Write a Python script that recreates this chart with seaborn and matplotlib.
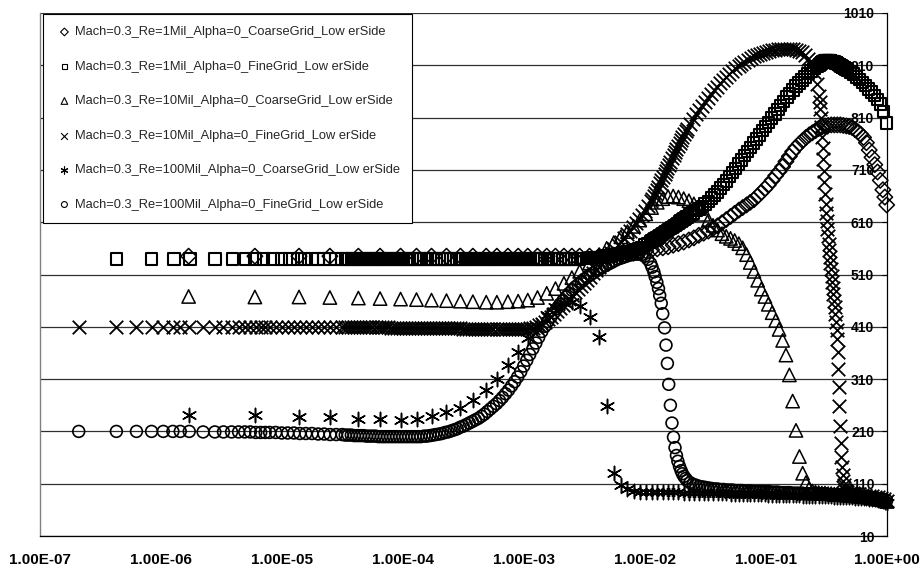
import matplotlib
matplotlib.use("Agg")
import matplotlib.pyplot as plt
from matplotlib.ticker import NullLocator
import seaborn as sns

sns.set_style("white")
plt.rcParams["font.family"] = ["Liberation Sans", "DejaVu Sans"]

labels = [
    "Mach=0.3_Re=1Mil_Alpha=0_CoarseGrid_Low erSide",
    "Mach=0.3_Re=1Mil_Alpha=0_FineGrid_Low erSide",
    "Mach=0.3_Re=10Mil_Alpha=0_CoarseGrid_Low erSide",
    "Mach=0.3_Re=10Mil_Alpha=0_FineGrid_Low erSide",
    "Mach=0.3_Re=100Mil_Alpha=0_CoarseGrid_Low erSide",
    "Mach=0.3_Re=100Mil_Alpha=0_FineGrid_Low erSide",
]

xtick_vals = [1e-7, 1e-6, 1e-5, 1e-4, 1e-3, 1e-2, 1e-1, 1e0]
xtick_labels = ["1.00E-07", "1.00E-06", "1.00E-05", "1.00E-04",
                "1.00E-03", "1.00E-02", "1.00E-01", "1.00E+00"]
ytick_vals = [10, 110, 210, 310, 410, 510, 610, 710, 810, 910, 1010]

# ---------------- coarse grid (diamond, triangle, asterisk) ----------------
x_coarse = [1.7e-6, 6.0e-6, 1.39e-5, 2.5e-5, 4.3e-5, 6.5e-5, 9.6e-5, 1.3e-4,
            1.73e-4, 2.3e-4, 3.0e-4, 3.8e-4, 4.9e-4, 6.0e-4, 7.4e-4, 9.0e-4,
            1.08e-3, 1.3e-3, 1.55e-3, 1.83e-3, 2.15e-3, 2.5e-3, 2.9e-3, 3.5e-3,
            4.2e-3, 4.85e-3, 5.55e-3, 6.35e-3, 7.2e-3, 8.1e-3, 9.1e-3,
            0.0102, 0.0114, 0.0127, 0.0141, 0.0156, 0.0172, 0.019, 0.021,
            0.0232, 0.0255, 0.028, 0.0307, 0.0336, 0.0367, 0.04, 0.0435,
            0.0472, 0.0512, 0.0554, 0.06, 0.0645, 0.0695, 0.0745, 0.08,
            0.0858, 0.092, 0.0985, 0.105, 0.113, 0.121, 0.129, 0.138, 0.147,
            0.157, 0.167, 0.178, 0.19, 0.202, 0.215, 0.229, 0.243, 0.258,
            0.274, 0.291, 0.309, 0.328, 0.348, 0.369, 0.391, 0.414, 0.438,
            0.464, 0.49, 0.518, 0.547, 0.578, 0.61, 0.644, 0.68, 0.717, 0.756,
            0.797, 0.84, 0.885, 0.93, 0.965, 1.0]

y_diamond = [545, 545, 545, 545, 545, 545, 545, 545, 545, 545, 545, 545, 545,
             545, 545, 545, 545, 545, 545, 545, 545, 545, 545, 545, 545,
             546, 547, 548, 550, 551, 553, 555, 557, 559, 561, 563, 566, 569,
             572, 576, 580, 585, 589, 593, 598, 603, 609, 615, 621, 627, 633,
             638, 643, 648, 653, 660, 667, 674, 681, 690, 699, 707, 716, 726,
             736, 745, 753, 760, 766, 772, 777, 781, 785, 789, 792, 794, 795,
             796, 796, 796, 796, 795, 794, 793, 791, 787, 783, 778, 772, 762,
             748, 734, 720, 706, 690, 672, 658, 643]

y_triangle = [468, 467, 467, 466, 465, 464, 463, 462, 461, 460, 459, 458, 457,
              457, 458, 459, 461, 466, 474, 483, 493, 504, 516, 532, 548, 560,
              571, 582, 592, 602, 614, 626, 638, 648, 655, 659, 660, 658, 655,
              651, 645, 636, 625, 614, 604, 595, 588, 583, 579, 575, 569, 561,
              548, 533, 516, 499, 482, 468, 453, 437, 422, 405, 384, 356, 318,
              268, 212, 162, 130, 112, 101, 96, 94, 93, 92, 92, 91, 91, 90, 90,
              89, 89, 88, 88, 87, 87, 86, 86, 85, 85, 84, 83, 82, 81, 80, 79,
              78, 76]

y_asterisk = [241, 241, 238, 237, 234, 233, 231, 234, 239, 247, 255, 270, 290,
              311, 337, 362, 388, 412, 432, 447, 456, 458, 450, 429, 391, 259,
              131, 107, 99, 96, 95, 95, 95, 94, 94, 94, 94, 94, 93, 93, 93, 93,
              93, 92, 92, 92, 92, 92, 91, 91, 91, 91, 91, 90, 90, 90, 90, 90,
              89, 89, 89, 89, 89, 88, 88, 88, 88, 88, 87, 87, 87, 87, 87, 86,
              86, 86, 86, 86, 85, 85, 85, 85, 84, 84, 84, 83, 83, 83, 82, 82,
              81, 81, 80, 79, 78, 77, 76, 74]

# ---------------- fine grid (x-marks, circles; squares share the outer part) --
x_fine = [2.1e-7, 4.3e-7, 6.3e-7, 8.4e-7, 1.05e-6, 1.26e-6, 1.45e-6, 1.72e-6,
          2.24e-6, 2.8e-6, 3.3e-6, 3.85e-6, 4.4e-6, 4.95e-6, 5.5e-6, 6.1e-6,
          6.7e-6, 7.3e-6,
          7.94e-6, 8.91e-6, 1.0e-5, 1.12e-5, 1.26e-5, 1.41e-5, 1.58e-5,
          1.78e-5, 2.0e-5, 2.24e-5, 2.51e-5, 2.82e-5,
          3.16e-5, 3.35e-5, 3.55e-5, 3.76e-5, 3.98e-5, 4.22e-5, 4.47e-5,
          4.73e-5, 5.01e-5, 5.31e-5, 5.62e-5, 5.96e-5, 6.31e-5, 6.68e-5,
          7.08e-5, 7.5e-5, 7.94e-5, 8.41e-5, 8.91e-5, 9.44e-5,
          1.00e-4, 1.06e-4, 1.12e-4, 1.19e-4, 1.26e-4, 1.33e-4, 1.41e-4,
          1.50e-4, 1.58e-4, 1.68e-4, 1.78e-4, 1.88e-4, 2.00e-4, 2.11e-4,
          2.24e-4, 2.37e-4, 2.51e-4, 2.66e-4, 2.82e-4, 2.99e-4, 3.16e-4,
          3.35e-4, 3.55e-4, 3.76e-4, 3.98e-4, 4.22e-4, 4.47e-4, 4.73e-4,
          5.01e-4, 5.31e-4, 5.62e-4, 5.96e-4, 6.31e-4, 6.68e-4, 7.08e-4,
          7.50e-4, 7.94e-4, 8.41e-4, 8.91e-4, 9.44e-4,
          1.00e-3, 1.06e-3, 1.12e-3, 1.19e-3, 1.26e-3, 1.33e-3, 1.41e-3,
          1.50e-3, 1.58e-3, 1.68e-3, 1.78e-3, 1.88e-3, 2.00e-3, 2.11e-3,
          2.24e-3, 2.37e-3, 2.51e-3, 2.66e-3, 2.82e-3, 2.99e-3, 3.16e-3,
          3.35e-3, 3.55e-3, 3.76e-3, 3.98e-3, 4.22e-3, 4.47e-3, 4.73e-3,
          5.01e-3, 5.31e-3, 5.62e-3, 5.96e-3, 6.31e-3, 6.68e-3, 7.08e-3,
          7.50e-3, 7.94e-3, 8.41e-3, 8.91e-3, 9.44e-3,
          1.00e-2, 1.06e-2, 1.12e-2, 1.15e-2, 1.19e-2, 1.22e-2, 1.26e-2,
          1.30e-2, 1.33e-2, 1.37e-2, 1.41e-2, 1.46e-2, 1.50e-2, 1.54e-2,
          1.58e-2, 1.63e-2, 1.68e-2, 1.73e-2, 1.78e-2, 1.83e-2, 1.88e-2,
          1.94e-2, 2.00e-2, 2.05e-2, 2.11e-2, 2.18e-2, 2.24e-2, 2.37e-2,
          2.51e-2, 2.66e-2, 2.82e-2, 2.99e-2, 3.16e-2, 3.35e-2, 3.55e-2,
          3.76e-2, 3.98e-2, 4.22e-2, 4.47e-2, 4.73e-2, 5.01e-2, 5.31e-2,
          5.62e-2, 5.96e-2, 6.31e-2, 6.68e-2, 7.08e-2, 7.50e-2, 7.94e-2,
          8.41e-2, 8.91e-2, 9.44e-2,
          0.100, 0.106, 0.112, 0.119, 0.126, 0.133, 0.141, 0.150, 0.158,
          0.168, 0.178, 0.188, 0.200, 0.211, 0.224, 0.237, 0.251, 0.266,
          0.275, 0.279, 0.282, 0.285, 0.288, 0.292, 0.295, 0.299, 0.302,
          0.306, 0.309, 0.313, 0.316, 0.320, 0.324, 0.327, 0.331, 0.335,
          0.339, 0.343, 0.347, 0.351, 0.355, 0.359, 0.363, 0.367, 0.372,
          0.376, 0.380, 0.385, 0.389, 0.394, 0.398, 0.403, 0.407, 0.412,
          0.417, 0.422, 0.427, 0.432, 0.437, 0.442, 0.447, 0.452, 0.457,
          0.473, 0.501, 0.531, 0.562, 0.596, 0.631, 0.668, 0.708, 0.750,
          0.794, 0.841, 0.891, 0.944, 1.000]

y_xmark = [410, 410, 410, 410, 410, 410, 410, 410, 410, 410, 410, 410, 410,
           410, 410, 410, 410, 410,
           410, 410, 410, 410, 410, 410, 410, 410, 410, 410, 410, 410,
           410, 410, 410, 410, 409, 409, 409, 409, 409, 409, 409, 409, 409,
           409, 409, 409, 408, 408, 408, 408,
           408, 408, 408, 408, 408, 408, 408, 408, 408, 408,
           407, 407, 407, 407, 407, 407, 407, 407, 407, 407,
           406, 406, 406, 406, 406, 406, 406, 406, 406, 406,
           406, 406, 406, 406, 406, 406, 406, 406, 406, 406,
           406, 406, 407, 408, 410, 413, 416, 420, 424, 429, 434, 440, 446,
           452, 458, 464, 470, 476, 482, 488, 494, 500, 506, 512, 518, 525,
           531, 538, 545, 552, 559, 566, 573, 580, 587, 594, 601, 608, 616,
           624,
           632, 641, 650, 655, 661, 666, 672, 678, 684, 690, 696, 702, 708,
           714, 720, 726, 732, 738, 744, 750, 756, 762, 768, 773, 778, 784,
           789, 798, 807, 816, 824, 832, 840, 848, 855, 862, 869, 876, 882,
           888, 894, 899, 904, 909, 913, 917, 921, 924, 927, 930, 932, 934,
           936, 938, 939, 940, 941, 942, 942, 942, 942, 941, 940, 938, 935,
           930, 922, 912, 898, 875,
           852, 840, 826, 810, 792, 772, 752, 730, 708, 686, 664, 645, 628,
           612, 597, 583, 569, 556, 544, 532, 520, 508, 496, 484, 472, 460,
           448, 434, 420, 404, 386, 362, 330, 295, 258, 220, 188, 162, 142,
           127, 116, 108, 102, 98, 96,
           94, 93, 92, 91, 90, 89, 88, 87, 86, 85, 84, 82, 80, 77]

y_circle = [210, 210, 210, 210, 210, 210, 210, 210, 209, 209, 209, 209, 209,
            209, 209, 208, 208, 208,
            208, 208, 207, 207, 207, 206, 206, 206, 205, 205, 204, 204,
            204, 203, 203, 203, 202, 202, 202, 202, 201, 201, 201, 201, 200,
            200, 200, 200, 200, 200, 200, 200,
            200, 200, 200, 200, 200, 200, 200, 201, 201, 202, 203, 204, 205,
            206, 208, 209, 211, 213, 215, 218, 220, 223, 226, 229, 232, 235,
            239, 243, 248, 253, 258, 263, 269, 275, 282, 289, 297, 305, 314,
            324,
            335, 346, 357, 368, 379, 390, 401, 411, 420, 429, 437, 445, 453,
            460, 467, 474, 480, 486, 491, 496, 501, 505, 509, 513, 517, 520,
            524, 527, 530, 533, 536, 539, 541, 543, 545, 547, 548, 549, 549,
            548,
            545, 539, 531, 524, 515, 506, 495, 483, 470, 455, 435, 408, 375,
            340, 300, 260, 226, 199, 179, 164, 153, 143, 135, 129, 124, 120,
            116, 112, 109, 107, 105, 104, 103, 102, 101, 100, 100, 99, 99, 98,
            98, 98, 97, 97, 97, 96, 96, 96, 95, 95, 95, 95,
            95, 95, 94, 94, 94, 93, 93, 93, 93, 92, 92, 92, 92, 91, 91, 91,
            91, 90,
            90, 90, 90, 90, 90, 90, 90, 90, 90, 90, 90, 90, 90, 90, 90,
            89, 89, 89, 89, 89, 89, 89, 89, 89, 89, 89, 89, 89, 89, 89,
            88, 88, 88, 88, 88, 88, 88, 88, 88, 88, 88, 88, 88, 88, 88,
            88, 87, 87, 86, 86, 85, 85, 84, 84, 83, 82, 81, 80, 78]

x_square_wall = [4.3e-7, 8.4e-7, 1.29e-6, 1.75e-6, 2.8e-6, 3.9e-6, 5.0e-6,
                 6.0e-6, 7.1e-6, 8.5e-6, 1.0e-5, 1.17e-5, 1.35e-5, 1.55e-5,
                 1.78e-5, 2.0e-5, 2.24e-5, 2.51e-5, 2.82e-5]
x_square = x_square_wall + x_fine[30:]

y_square = [540, 540, 540, 540, 540, 540, 540, 540, 540, 540, 540, 540, 540,
            540, 540, 540, 540, 540, 540,
            540, 540, 540, 540, 540, 540, 540, 540, 540, 540, 540, 540, 540,
            540, 540, 540, 540, 540, 540, 540,
            540, 540, 540, 540, 540, 540, 540, 540, 540, 540, 540, 540, 540,
            540, 540, 540, 540, 540, 540, 540, 540, 540, 540, 540, 540, 540,
            540, 540, 540, 540, 540, 540, 540, 540, 540, 540, 540, 540, 540,
            540,
            540, 540, 540, 540, 540, 540, 540, 540, 540, 540, 540, 540, 540,
            540, 540, 540, 540, 540, 540, 541, 541, 541, 542, 542, 543, 543,
            544, 545, 546, 547, 548, 549, 550, 551, 553, 554, 556, 558, 560,
            562,
            566, 569, 572, 574, 576, 578, 580, 582, 584, 586, 588, 590, 592,
            594, 596, 598, 600, 602, 604, 606, 608, 610, 612, 614, 616, 618,
            620, 624, 628, 632, 636, 640, 645, 650, 656, 662, 668, 675, 682,
            689, 697, 705, 713, 721, 729, 737, 745, 753, 761, 769, 777, 785,
            793, 801, 809, 817, 825, 833, 841, 849, 856, 863, 870, 876, 882,
            888, 894, 899, 904, 908,
            910, 911, 912, 913, 914, 915, 916, 916, 917, 917, 918, 918, 918,
            918, 918, 918, 918, 918, 918, 918, 917, 917, 917, 916, 916, 916,
            915, 915, 914, 914, 913, 913, 912, 911, 911, 910, 909, 909, 908,
            907, 906, 906, 905, 904, 903,
            901, 897, 893, 888, 883, 877, 871, 865, 859, 852, 845, 836, 822,
            800]

fig = plt.figure(figsize=(9.22, 5.72), dpi=100)
ax = fig.add_axes([0.0431, 0.0629, 0.9186, 0.9144])
ax.set_xscale("log")

sns.scatterplot(x=x_coarse, y=y_diamond, marker="D", s=62, facecolor="none",
                edgecolor="black", linewidth=1.1, label=labels[0], ax=ax,
                clip_on=False, zorder=3)
sns.scatterplot(x=x_square, y=y_square, marker="s", s=68, facecolor="none",
                edgecolor="black", linewidth=1.5, label=labels[1], ax=ax,
                clip_on=False, zorder=3)
sns.scatterplot(x=x_coarse, y=y_triangle, marker="^", s=92, facecolor="none",
                edgecolor="black", linewidth=1.1, label=labels[2], ax=ax,
                clip_on=False, zorder=3)
sns.scatterplot(x=x_fine, y=y_xmark, marker="x", s=95, color="black",
                linewidth=1.3, label=labels[3], ax=ax, clip_on=False, zorder=3)
sns.scatterplot(x=x_coarse, y=y_asterisk, marker=(6, 2, 0), s=105,
                color="black", linewidth=1.1, label=labels[4], ax=ax,
                clip_on=False, zorder=3)
sns.scatterplot(x=x_fine, y=y_circle, marker="o", s=72, facecolor="none",
                edgecolor="black", linewidth=1.2, label=labels[5], ax=ax,
                clip_on=False, zorder=3)

ax.set_xlim(1e-7, 1.0)
ax.set_ylim(10, 1010)
ax.set_xticks(xtick_vals, xtick_labels, fontweight="bold")
ax.xaxis.set_minor_locator(NullLocator())
ax.set_yticks(ytick_vals, [str(v) for v in ytick_vals], fontweight="bold")
ax.yaxis.tick_right()
ax.tick_params(axis="x", direction="out", length=3.6, width=0.8, pad=8.5,
               labelsize=11, colors="black")
ax.tick_params(axis="y", direction="in", length=3.6, width=0.8, pad=-9.0,
               labelsize=10, colors="black")
for t in ax.get_yticklabels():
    t.set_horizontalalignment("right")
ax.set_xlabel("")
ax.set_ylabel("")

ax.grid(axis="y", color="#303030", linewidth=0.9)
ax.grid(axis="x", visible=False)
ax.set_axisbelow(True)

ax.spines["top"].set_visible(False)
ax.spines["left"].set_color("#808080")
ax.spines["left"].set_linewidth(1.0)
ax.spines["right"].set_color("black")
ax.spines["right"].set_linewidth(0.9)
ax.spines["bottom"].set_color("black")
ax.spines["bottom"].set_linewidth(0.9)

leg = ax.legend(loc="upper left", bbox_to_anchor=(0.0035, 0.601, 0.436, 0.397),
                mode="expand", frameon=True, fancybox=False, edgecolor="black",
                framealpha=1, fontsize=9.3, markerscale=0.5, labelspacing=1.74,
                borderpad=0.95, handlelength=1.46, handletextpad=0.12,
                borderaxespad=0, scatterpoints=1)
leg.get_frame().set_linewidth(0.8)
for h in leg.legend_handles:
    h.set_linewidth(0.8)
leg.set_zorder(5)

fig.savefig("out.png", dpi=100, facecolor="white")
